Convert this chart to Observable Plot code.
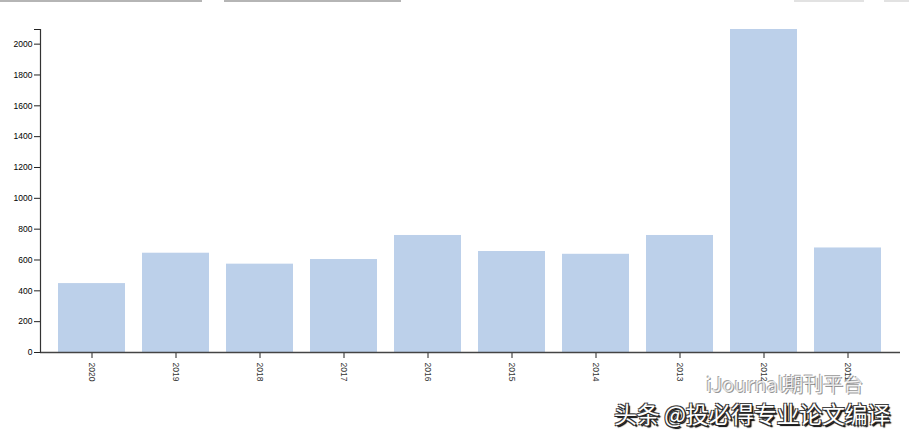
<!DOCTYPE html>
<html><head><meta charset="utf-8">
<script src="https://cdn.jsdelivr.net/npm/d3@7"></script>
<script src="https://cdn.jsdelivr.net/npm/@observablehq/plot@0.6"></script>
<style>
body{margin:0;background:#fff;}
#wrap{position:relative;width:909px;height:435px;overflow:hidden;}
#wrap svg{position:absolute;left:0;top:0;}
.bar{position:absolute;top:0;height:2px;background:#b5b5b5;}
.wm1{position:absolute;left:614px;top:402px;line-height:22px;font-family:"Noto Sans CJK SC",sans-serif;font-size:23px;color:#fff;white-space:nowrap;letter-spacing:-0.3px;
 text-shadow:1px 1px 0 #222,-1px -1px 0 #444,1px -1px 0 #333,-1px 1px 0 #333,2px 2px 1px #000;}
.wm2{position:absolute;left:706px;top:374px;line-height:19px;font-family:"Noto Sans CJK SC",sans-serif;font-size:20px;color:rgba(255,255,255,0.75);white-space:nowrap;
 text-shadow:1px 1px 0 rgba(80,80,80,0.6),-1px -1px 0 rgba(80,80,80,0.5);}
</style></head><body><div id="wrap">
<div class="bar" style="left:0;width:202px"></div>
<div class="bar" style="left:224px;width:177px"></div>
<div class="bar" style="left:794px;width:70px;background:#e2e2e2"></div>
<div class="bar" style="left:884px;width:25px;background:#e2e2e2"></div>
</div>
<script>
const years = ["2020","2019","2018","2017","2016","2015","2014","2013","2012","2011"];
const counts = [447, 644, 573, 603, 759, 655, 637, 759, 2095, 678];
const yTicks = [0, 200, 400, 600, 800, 1000, 1200, 1400, 1600, 1800, 2000];
const yMax = 2095;
const data = years.map((year, i) => ({year, count: counts[i]}));

const chart = Plot.plot({
  width: 909, height: 435,
  marginLeft: 40, marginRight: 9, marginTop: 29, marginBottom: 83,
  style: {fontFamily: "'Liberation Sans', Arial, sans-serif", fontSize: "8.5px", color: "#000", background: "transparent"},
  x: {domain: years, padding: 0.2, label: null},
  y: {domain: [0, yMax], label: null},
  marks: [
    Plot.barY(data, {x: "year", y: "count", fill: "#bcd0ea"}),
    Plot.axisY(yTicks.concat([yMax]), {tickSize: 6, tickPadding: 2, stroke: "#222", tickFormat: d => d > 2000 ? "" : String(d), label: null}),
    Plot.axisX({tickRotate: 90, tickSize: 6, tickPadding: 4, stroke: "#222", fill: "#333", label: null}),
    Plot.ruleY([0], {stroke: "#444", strokeWidth: 1.5}),
    Plot.frame({anchor: "left", stroke: "#333", strokeWidth: 1.2})
  ]
});
const wrap = document.getElementById("wrap");
wrap.appendChild(chart);
const w2 = document.createElement("div"); w2.className = "wm2"; w2.textContent = "iJournal期刊平台"; wrap.appendChild(w2);
const w1 = document.createElement("div"); w1.className = "wm1"; w1.textContent = "头条 @投必得专业论文编译"; wrap.appendChild(w1);
</script>
</body></html>
